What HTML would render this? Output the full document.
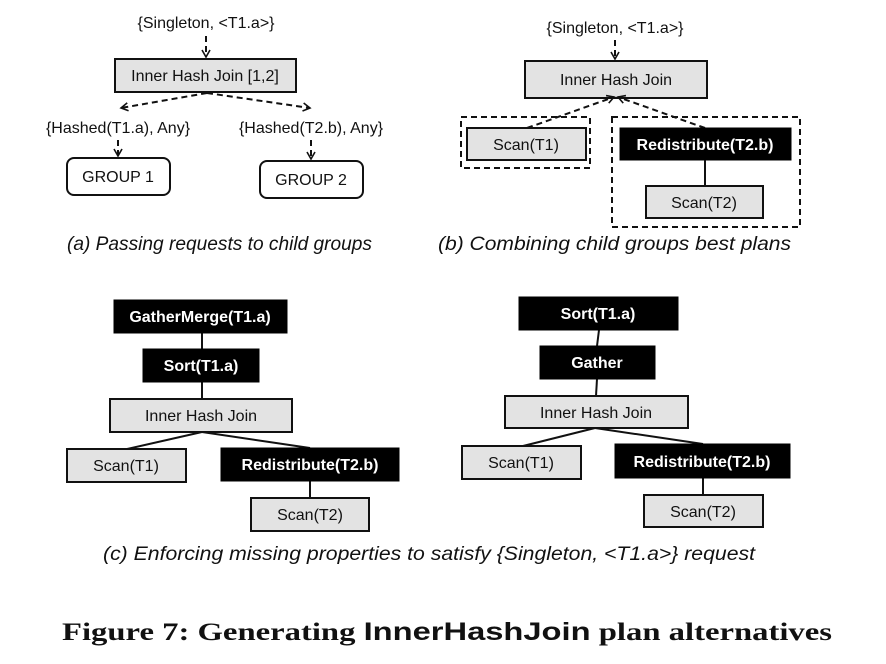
<!DOCTYPE html>
<html><head><style>
html,body{margin:0;padding:0;background:#fff;}
svg{display:block;}
.t{font-family:"Liberation Sans",sans-serif;font-size:16px;fill:#111;}
.w{font-family:"Liberation Sans",sans-serif;font-size:16px;font-weight:bold;fill:#fff;}
.cap{font-family:"Liberation Sans",sans-serif;font-size:19px;font-style:italic;fill:#111;}
.g{fill:#e3e3e3;stroke:#111;stroke-width:2;}
.b{fill:#000;stroke:#000;stroke-width:1;}
.l{stroke:#111;stroke-width:2;fill:none;}
.d{stroke:#111;stroke-width:2;fill:none;stroke-dasharray:6,4;}
</style></head><body>
<svg width="886" height="664" viewBox="0 0 886 664" xmlns="http://www.w3.org/2000/svg">
<defs><marker id="ah" markerWidth="10" markerHeight="10" refX="8" refY="5" orient="auto" markerUnits="userSpaceOnUse"><path d="M1,1 L8,5 L1,9" fill="none" stroke="#111" stroke-width="1.6"/></marker></defs>

<!-- (a) -->
<text class="t" x="206" y="28" text-anchor="middle">{Singleton, &lt;T1.a&gt;}</text>
<line class="d" x1="206" y1="36" x2="206" y2="57" marker-end="url(#ah)"/>
<rect class="g" x="115" y="59" width="181" height="33"/>
<text class="t" x="205" y="81" text-anchor="middle">Inner Hash Join [1,2]</text>
<line class="d" x1="207" y1="93" x2="121" y2="108" marker-end="url(#ah)"/>
<line class="d" x1="207" y1="93" x2="310" y2="108" marker-end="url(#ah)"/>
<text class="t" x="118" y="133" text-anchor="middle">{Hashed(T1.a), Any}</text>
<text class="t" x="311" y="133" text-anchor="middle">{Hashed(T2.b), Any}</text>
<line class="d" x1="118" y1="140" x2="118" y2="156" marker-end="url(#ah)"/>
<line class="d" x1="311" y1="140" x2="311" y2="159" marker-end="url(#ah)"/>
<rect x="67" y="158" width="103" height="37" rx="7" fill="#fff" stroke="#111" stroke-width="2"/>
<text class="t" x="118" y="182" text-anchor="middle">GROUP 1</text>
<rect x="260" y="161" width="103" height="37" rx="7" fill="#fff" stroke="#111" stroke-width="2"/>
<text class="t" x="311" y="185" text-anchor="middle">GROUP 2</text>
<text class="cap" x="67" y="250" textLength="305" lengthAdjust="spacingAndGlyphs">(a) Passing requests to child groups</text>

<!-- (b) -->
<text class="t" x="615" y="33" text-anchor="middle">{Singleton, &lt;T1.a&gt;}</text>
<line class="d" x1="615" y1="40" x2="615" y2="59" marker-end="url(#ah)"/>
<rect class="g" x="525" y="61" width="182" height="37"/>
<text class="t" x="616" y="85" text-anchor="middle">Inner Hash Join</text>
<rect class="d" x="461" y="117" width="129" height="51"/>
<rect class="d" x="612" y="117" width="188" height="110"/>
<line class="d" x1="527" y1="128" x2="614" y2="97" marker-end="url(#ah)"/>
<line class="d" x1="705" y1="128" x2="618" y2="97" marker-end="url(#ah)"/>
<rect class="g" x="467" y="128" width="119" height="32"/>
<text class="t" x="526" y="150" text-anchor="middle">Scan(T1)</text>
<rect class="b" x="620" y="128" width="171" height="32"/>
<text class="w" x="705" y="150" text-anchor="middle">Redistribute(T2.b)</text>
<line class="l" x1="705" y1="160" x2="705" y2="186"/>
<rect class="g" x="646" y="186" width="117" height="32"/>
<text class="t" x="704" y="208" text-anchor="middle">Scan(T2)</text>
<text class="cap" x="438" y="250" textLength="353" lengthAdjust="spacingAndGlyphs">(b) Combining child groups best plans</text>

<!-- (c) left -->
<line class="l" x1="202" y1="333" x2="202" y2="349"/>
<line class="l" x1="202" y1="382" x2="202" y2="399"/>
<line class="l" x1="202" y1="432" x2="127" y2="449"/>
<line class="l" x1="202" y1="432" x2="310" y2="448"/>
<line class="l" x1="310" y1="481" x2="310" y2="498"/>
<rect class="b" x="114" y="300" width="173" height="33"/>
<text class="w" x="200" y="322" text-anchor="middle">GatherMerge(T1.a)</text>
<rect class="b" x="143" y="349" width="116" height="33"/>
<text class="w" x="201" y="371" text-anchor="middle">Sort(T1.a)</text>
<rect class="g" x="110" y="399" width="182" height="33"/>
<text class="t" x="201" y="421" text-anchor="middle">Inner Hash Join</text>
<rect class="g" x="67" y="449" width="119" height="33"/>
<text class="t" x="126" y="471" text-anchor="middle">Scan(T1)</text>
<rect class="b" x="221" y="448" width="178" height="33"/>
<text class="w" x="310" y="470" text-anchor="middle">Redistribute(T2.b)</text>
<rect class="g" x="251" y="498" width="118" height="33"/>
<text class="t" x="310" y="520" text-anchor="middle">Scan(T2)</text>

<!-- (c) right -->
<line class="l" x1="599" y1="330" x2="597" y2="346"/>
<line class="l" x1="597" y1="379" x2="596" y2="396"/>
<line class="l" x1="595" y1="428" x2="523" y2="446"/>
<line class="l" x1="595" y1="428" x2="703" y2="444"/>
<line class="l" x1="703" y1="478" x2="703" y2="495"/>
<rect class="b" x="519" y="297" width="159" height="33"/>
<text class="w" x="598" y="319" text-anchor="middle">Sort(T1.a)</text>
<rect class="b" x="540" y="346" width="115" height="33"/>
<text class="w" x="597" y="368" text-anchor="middle">Gather</text>
<rect class="g" x="505" y="396" width="183" height="32"/>
<text class="t" x="596" y="418" text-anchor="middle">Inner Hash Join</text>
<rect class="g" x="462" y="446" width="119" height="33"/>
<text class="t" x="521" y="468" text-anchor="middle">Scan(T1)</text>
<rect class="b" x="615" y="444" width="175" height="34"/>
<text class="w" x="702" y="467" text-anchor="middle">Redistribute(T2.b)</text>
<rect class="g" x="644" y="495" width="119" height="32"/>
<text class="t" x="703" y="517" text-anchor="middle">Scan(T2)</text>

<text class="cap" x="103" y="560" textLength="652" lengthAdjust="spacingAndGlyphs">(c) Enforcing missing properties to satisfy {Singleton, &lt;T1.a&gt;} request</text>

<text x="62" y="640" textLength="770" lengthAdjust="spacingAndGlyphs" style="font-size:25px;fill:#111;"><tspan style="font-family:'Liberation Serif',serif;font-weight:bold;">Figure 7:  Generating </tspan><tspan style="font-family:'Liberation Sans',sans-serif;font-weight:bold;">InnerHashJoin</tspan><tspan style="font-family:'Liberation Serif',serif;font-weight:bold;"> plan alternatives</tspan></text>
</svg>
</body></html>
